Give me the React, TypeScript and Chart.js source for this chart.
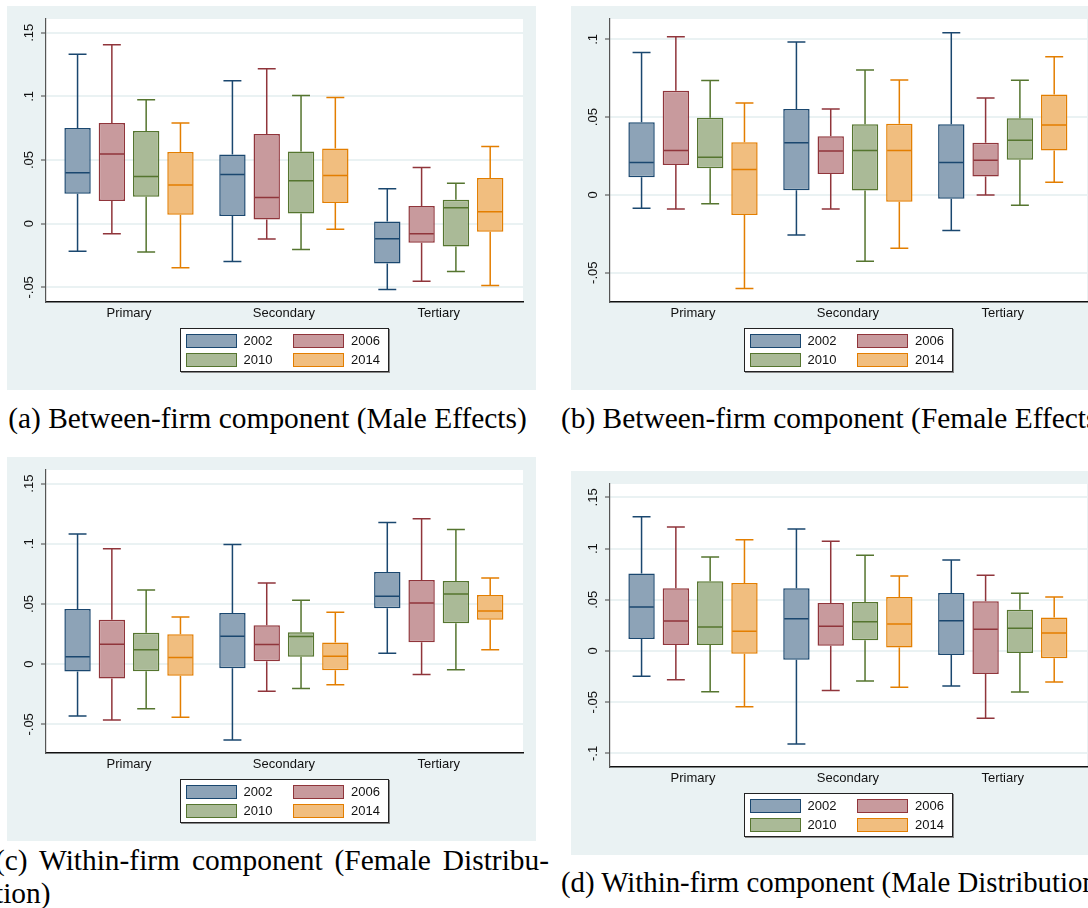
import React, { useEffect, useRef } from 'react';
import { Chart, registerables } from 'chart.js';

Chart.register(...registerables);
Chart.defaults.font.family = "'Liberation Sans', Arial, Helvetica, sans-serif";
Chart.defaults.font.size = 13;

// ---------- data ----------
const categories = ['Primary', 'Secondary', 'Tertiary'];
const years = ['2002', '2006', '2010', '2014'];
const lineColors = ['#1A476F', '#90353B', '#55752F', '#E37E00'];
const fillColors = ['#8DA3B7', '#C89A9D', '#AABA97', '#F1BE7F'];

// each row: [lower whisker, q1, median, q3, upper whisker] for Primary, Secondary, Tertiary
// (a) Between-firm component (Male Effects)
const a2002 = [[-0.0216, 0.0236, 0.0401, 0.0752, 0.1332], [-0.0297, 0.006, 0.0386, 0.0543, 0.1122], [-0.0517, -0.0312, -0.0118, 0.0018, 0.0275]];
const a2006 = [[-0.0079, 0.0178, 0.0548, 0.0792, 0.1406], [-0.0121, 0.0034, 0.0205, 0.0705, 0.1217], [-0.0452, -0.015, -0.0079, 0.0139, 0.0441]];
const a2010 = [[-0.0223, 0.0212, 0.037, 0.0729, 0.0973], [-0.0202, 0.0081, 0.0338, 0.0567, 0.1007], [-0.0375, -0.0179, 0.0126, 0.0189, 0.0317]];
const a2014 = [[-0.0346, 0.0071, 0.0304, 0.0563, 0.0792], [-0.0043, 0.0162, 0.0378, 0.059, 0.0992], [-0.0486, -0.0063, 0.0094, 0.0359, 0.0606]];

// (b) Between-firm component (Female Effects)
const b2002 = [[-0.0086, 0.0114, 0.0208, 0.0467, 0.0915], [-0.0257, 0.003, 0.0336, 0.0553, 0.0983], [-0.0229, -0.0024, 0.0208, 0.0454, 0.1043]];
const b2006 = [[-0.009, 0.0193, 0.0285, 0.067, 0.1017], [-0.009, 0.0135, 0.0283, 0.0377, 0.0553], [0.0, 0.0118, 0.0223, 0.0336, 0.0623]];
const b2010 = [[-0.0056, 0.0171, 0.0242, 0.0497, 0.0735], [-0.0426, 0.0028, 0.0285, 0.0454, 0.0803], [-0.0066, 0.0227, 0.0351, 0.0493, 0.0737]];
const b2014 = [[-0.0602, -0.0129, 0.0163, 0.0339, 0.0591], [-0.0343, -0.0043, 0.0285, 0.0458, 0.0739], [0.0082, 0.0285, 0.045, 0.0645, 0.0889]];

// (c) Within-firm component (Female Distribution)
const c2002 = [[-0.0431, -0.0061, 0.0061, 0.0459, 0.1081], [-0.063, -0.0033, 0.0232, 0.0426, 0.0995], [0.0091, 0.0464, 0.0564, 0.0766, 0.1177]];
const c2006 = [[-0.0464, -0.0119, 0.0166, 0.0368, 0.0959], [-0.0224, 0.0025, 0.0163, 0.0323, 0.0674], [-0.0086, 0.0182, 0.0509, 0.0699, 0.1208]];
const c2010 = [[-0.037, -0.0058, 0.0119, 0.026, 0.0616], [-0.0202, 0.0061, 0.0229, 0.0265, 0.0531], [-0.0047, 0.034, 0.0583, 0.0691, 0.1119]];
const c2014 = [[-0.0442, -0.0097, 0.0055, 0.0249, 0.0392], [-0.0171, -0.005, 0.0066, 0.018, 0.0431], [0.0119, 0.0368, 0.0442, 0.0575, 0.0716]];

// (d) Within-firm component (Male Distribution)
const d2002 = [[-0.0247, 0.0117, 0.043, 0.0758, 0.1312], [-0.0908, -0.0085, 0.0316, 0.0612, 0.1191], [-0.0342, -0.0039, 0.0296, 0.0566, 0.0889]];
const d2006 = [[-0.028, 0.0059, 0.0293, 0.0612, 0.1211], [-0.0387, 0.0052, 0.0241, 0.0469, 0.1071], [-0.0658, -0.0225, 0.0212, 0.0485, 0.0739]];
const d2010 = [[-0.0397, 0.0059, 0.0234, 0.068, 0.0918], [-0.0293, 0.0104, 0.0286, 0.0479, 0.0934], [-0.04, -0.002, 0.0221, 0.0404, 0.0563]];
const d2014 = [[-0.0544, -0.0026, 0.0192, 0.0664, 0.1087], [-0.0355, 0.0033, 0.0264, 0.0527, 0.0732], [-0.0303, -0.0072, 0.0176, 0.0326, 0.0527]];

const ticksA = [-0.05, 0, 0.05, 0.1, 0.15];
const tickLabelsA = ['-.05', '0', '.05', '.1', '.15'];
const ticksB = [-0.05, 0, 0.05, 0.1];
const tickLabelsB = ['-.05', '0', '.05', '.1'];
const ticksC = [-0.05, 0, 0.05, 0.1, 0.15];
const tickLabelsC = ['-.05', '0', '.05', '.1', '.15'];
const ticksD = [-0.1, -0.05, 0, 0.05, 0.1, 0.15];
const tickLabelsD = ['-.1', '-.05', '0', '.05', '.1', '.15'];

// ---------- layout ----------
const PANEL_W = 529;
const PANEL_H = 384;
const AREA = { left: 39, top: 13, right: 516, bottom: 296 };

type PanelCfg = {
  left: number;
  top: number;
  series: number[][][];
  yMin: number;
  yMax: number;
  ticks: number[];
  tickLabels: string[];
};

const panels: PanelCfg[] = [
  { left: 7, top: 6, series: [a2002, a2006, a2010, a2014], yMin: -0.0615, yMax: 0.1608, ticks: ticksA, tickLabels: tickLabelsA },
  { left: 571, top: 6, series: [b2002, b2006, b2010, b2014], yMin: -0.0688, yMax: 0.1131, ticks: ticksB, tickLabels: tickLabelsB },
  { left: 7, top: 457, series: [c2002, c2006, c2010, c2014], yMin: -0.0738, yMax: 0.1613, ticks: ticksC, tickLabels: tickLabelsC },
  { left: 571, top: 471, series: [d2002, d2006, d2010, d2014], yMin: -0.1133, yMax: 0.1631, ticks: ticksD, tickLabels: tickLabelsD },
];

const bgPlugin = {
  id: 'stataBg',
  beforeDraw(chart: any) {
    const { ctx, chartArea, width, height } = chart;
    ctx.save();
    ctx.fillStyle = '#EAF2F3';
    ctx.fillRect(0, 0, width, height);
    ctx.fillStyle = '#FFFFFF';
    ctx.fillRect(chartArea.left, chartArea.top, chartArea.right - chartArea.left, chartArea.bottom - chartArea.top);
    ctx.restore();
  },
};

const makeWhiskerPlugin = (series: number[][][]) => ({
  id: 'whiskers',
  afterDatasetsDraw(chart: any) {
    const { ctx } = chart;
    const yScale = chart.scales.y;
    const p = (v: number) => yScale.getPixelForValue(v);
    chart.data.datasets.forEach((_ds: any, k: number) => {
      const meta = chart.getDatasetMeta(k);
      meta.data.forEach((el: any, i: number) => {
        const s = series[k][i];
        const { x, width } = el.getProps(['x', 'width'], true);
        const cap = width * 0.68;
        ctx.save();
        ctx.strokeStyle = lineColors[k];
        ctx.lineWidth = 1.5;
        ctx.beginPath();
        ctx.moveTo(x, p(s[3]));
        ctx.lineTo(x, p(s[4]));
        ctx.moveTo(x, p(s[1]));
        ctx.lineTo(x, p(s[0]));
        ctx.moveTo(x - cap / 2, p(s[4]));
        ctx.lineTo(x + cap / 2, p(s[4]));
        ctx.moveTo(x - cap / 2, p(s[0]));
        ctx.lineTo(x + cap / 2, p(s[0]));
        ctx.moveTo(x - width / 2 + 1, p(s[2]));
        ctx.lineTo(x + width / 2 - 1, p(s[2]));
        ctx.stroke();
        ctx.restore();
      });
    });
  },
});

function Legend() {
  const cols = [6, 113.5];
  const rows = [6, 25];
  return (
    <div
      style={{
        position: 'absolute',
        left: 172.5,
        top: 322,
        width: 209,
        height: 44,
        boxSizing: 'border-box',
        border: '1px solid #222',
        boxShadow: '1px 1px 0 #888',
        background: '#fff',
        fontFamily: "'Liberation Sans', Arial, sans-serif",
        fontSize: 13,
        color: '#111',
      }}
    >
      {years.map((yr, k) => {
        const c = cols[k % 2];
        const r = rows[Math.floor(k / 2)];
        return (
          <React.Fragment key={yr}>
            <div
              style={{
                position: 'absolute',
                left: c - 1,
                top: r - 1,
                width: 51,
                height: 14,
                boxSizing: 'border-box',
                border: `1.5px solid ${lineColors[k]}`,
                background: fillColors[k],
              }}
            />
            <div style={{ position: 'absolute', left: c + 57, top: r - 1, height: 14, lineHeight: '14px' }}>{yr}</div>
          </React.Fragment>
        );
      })}
    </div>
  );
}

function BoxPanel({ cfg }: { cfg: PanelCfg }) {
  const ref = useRef<HTMLCanvasElement>(null);
  useEffect(() => {
    const canvas = ref.current;
    if (!canvas) return;
    const chart = new Chart(canvas, {
      type: 'bar',
      data: {
        datasets: years.map((yr, k) => ({
          label: yr,
          data: cfg.series[k].map((s, i) => ({ x: i, y: [s[1], s[3]] })),
          backgroundColor: fillColors[k],
          borderColor: lineColors[k],
          borderWidth: 1.5,
          borderSkipped: false,
          barPercentage: 0.769,
          categoryPercentage: 0.886,
        })),
      } as any,
      options: {
        animation: false,
        responsive: false,
        devicePixelRatio: 1,
        layout: { padding: { left: 0, top: AREA.top, right: PANEL_W - AREA.right, bottom: 0 } },
        plugins: { legend: { display: false }, tooltip: { enabled: false } },
        scales: {
          x: {
            type: 'linear',
            min: -0.536,
            max: 2.544,
            offset: false,
            afterBuildTicks: (s: any) => {
              s.ticks = categories.map((_c, i) => ({ value: i }));
            },
            afterFit: (s: any) => {
              s.height = PANEL_H - AREA.bottom;
            },
            grid: { display: false, drawTicks: false },
            border: { display: true, color: '#111', width: 1.5 },
            ticks: {
              callback: (v: any) => categories[v] ?? '',
              autoSkip: false,
              maxRotation: 0,
              minRotation: 0,
              padding: 4,
              color: '#111',
              font: { size: 13 },
            },
          },
          y: {
            type: 'linear',
            min: cfg.yMin,
            max: cfg.yMax,
            afterBuildTicks: (s: any) => {
              s.ticks = cfg.ticks.map((v) => ({ value: v }));
            },
            afterFit: (s: any) => {
              s.width = AREA.left;
            },
            grid: { color: '#EAF2F3', lineWidth: 2, drawTicks: true, tickLength: 5, tickWidth: 1, tickColor: '#444' },
            border: { color: '#555', width: 1.2 },
            ticks: {
              callback: (_v: any, i: number) => cfg.tickLabels[i],
              minRotation: 90,
              maxRotation: 90,
              crossAlign: 'center',
              padding: 0,
              autoSkip: false,
              color: '#111',
              font: { size: 13 },
            },
          },
        },
      } as any,
      plugins: [bgPlugin, makeWhiskerPlugin(cfg.series)],
    });
    return () => chart.destroy();
  }, [cfg]);
  return (
    <div style={{ position: 'absolute', left: cfg.left, top: cfg.top, width: PANEL_W, height: PANEL_H }}>
      <canvas ref={ref} width={PANEL_W} height={PANEL_H} style={{ display: 'block', width: PANEL_W, height: PANEL_H }} />
      <Legend />
    </div>
  );
}

const captionStyle: React.CSSProperties = {
  position: 'absolute',
  fontFamily: "'Liberation Serif', 'Times New Roman', Times, serif",
  fontSize: 29.4,
  lineHeight: '1',
  whiteSpace: 'nowrap',
  color: '#000',
};

export default function App() {
  return (
    <div style={{ position: 'absolute', left: 0, top: 0, width: 1088, height: 908, overflow: 'hidden', background: '#fff' }}>
      {panels.map((cfg, i) => (
        <BoxPanel key={i} cfg={cfg} />
      ))}
      <div style={{ ...captionStyle, left: 0, width: 535, top: 404, textAlign: 'center' }}>(a) Between-firm component (Male Effects)</div>
      <div style={{ ...captionStyle, left: 561, top: 404 }}>(b) Between-firm component (Female Effects)</div>
      <div style={{ ...captionStyle, left: -5, width: 554, top: 846, textAlign: 'justify', textAlignLast: 'justify' as any, whiteSpace: 'normal' }}>
        (c) Within-firm component (Female Distribu-
      </div>
      <div style={{ ...captionStyle, left: -5, top: 879 }}>tion)</div>
      <div style={{ ...captionStyle, left: 561, top: 868, fontSize: 28.8 }}>(d) Within-firm component (Male Distribution)</div>
    </div>
  );
}
